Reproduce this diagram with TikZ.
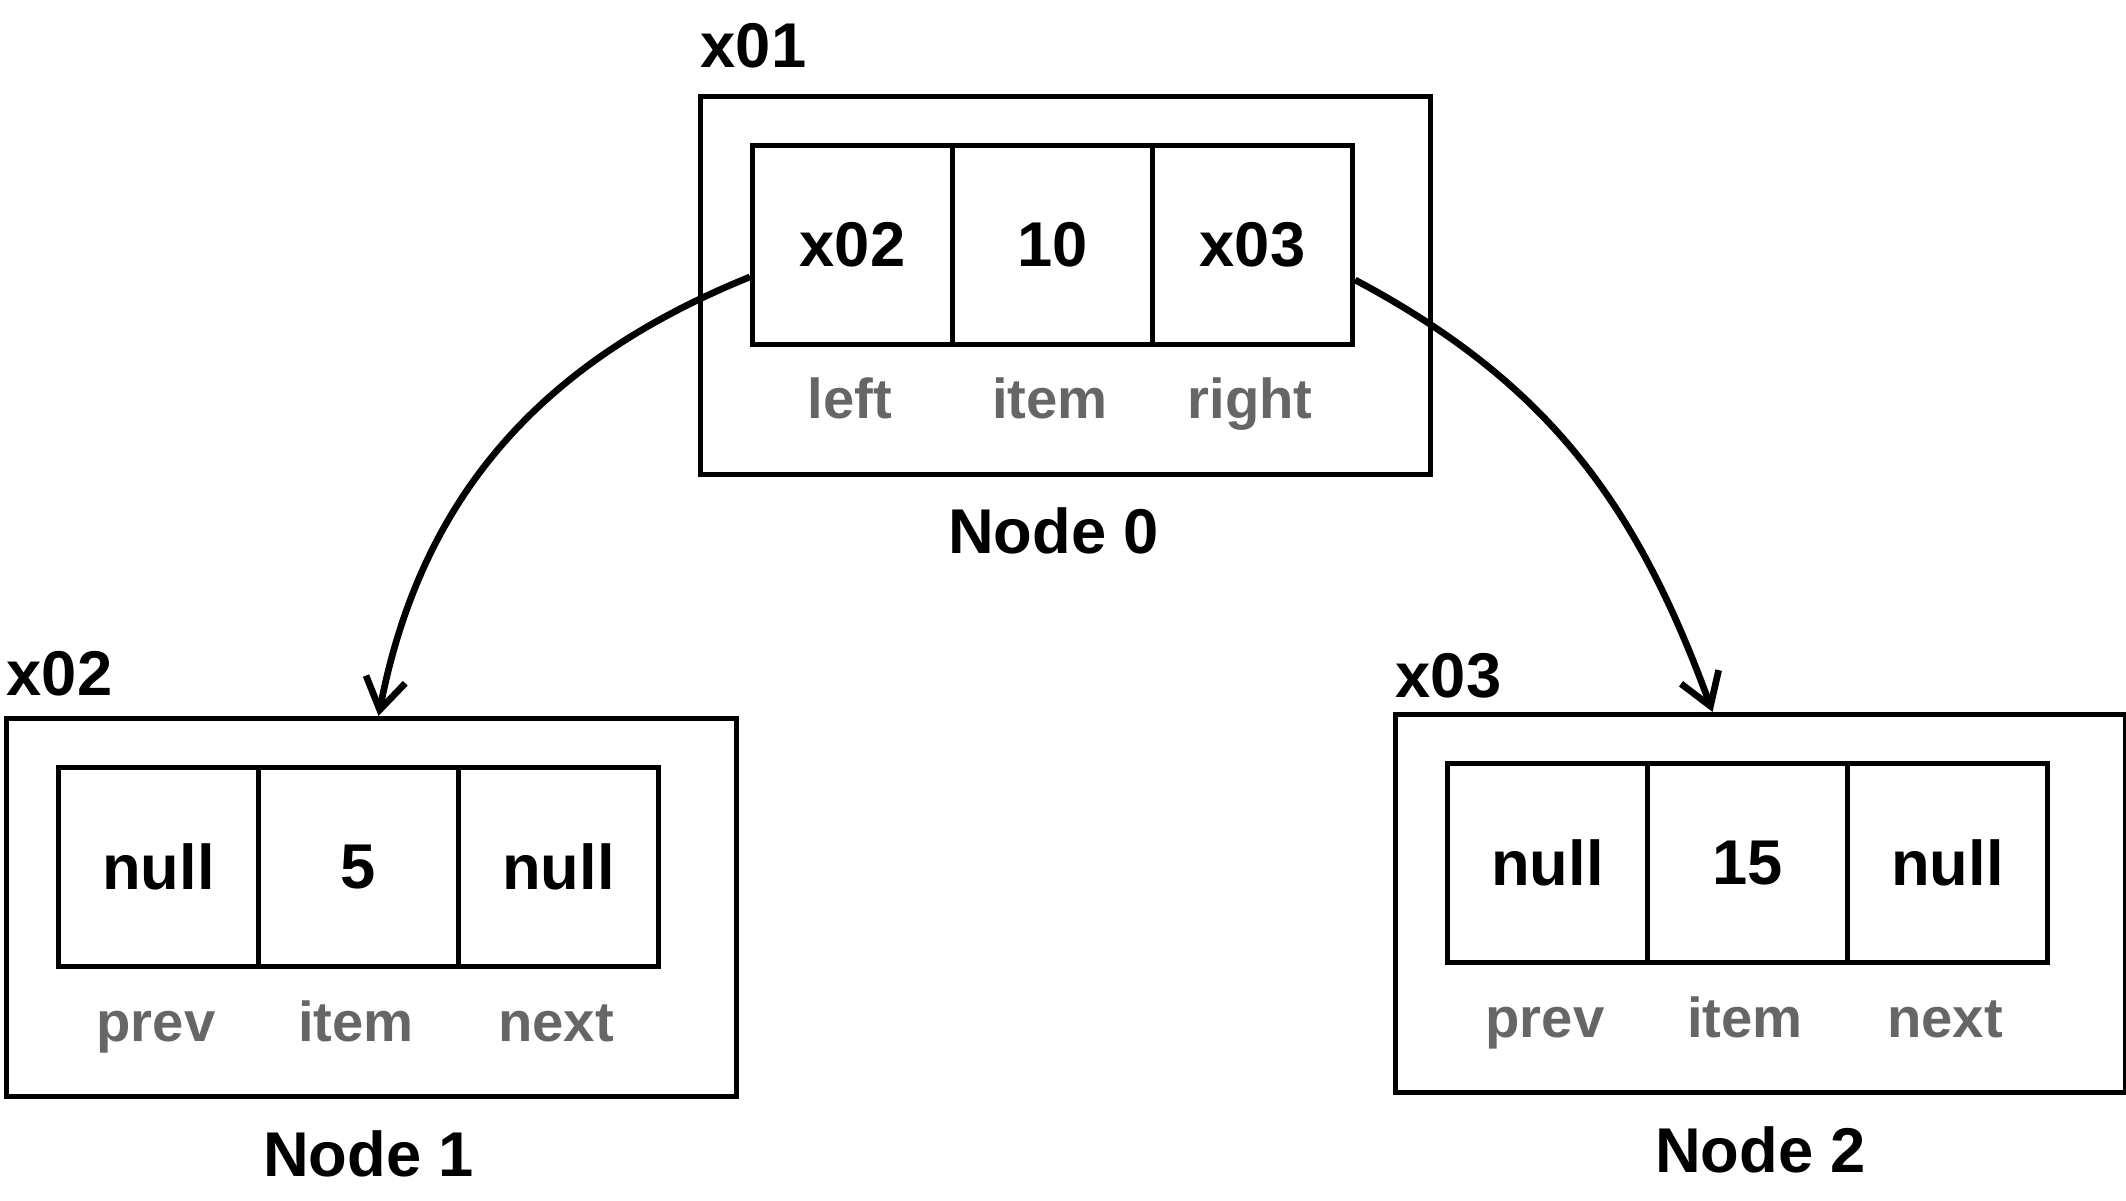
\documentclass[tikz,border=0pt]{standalone}
\usepackage{fontspec}
\setmainfont{Liberation Sans}
\usetikzlibrary{arrows.meta}
\definecolor{fieldgray}{HTML}{666666}

\tikzset{
  outerbox/.style={draw, line width=1.45pt, minimum width=7.3cm, minimum height=3.78cm, inner sep=0pt, anchor=south west},
  slot/.style={draw, line width=1.45pt, minimum width=2cm, minimum height=1.99cm, inner sep=0pt, anchor=south west, font=\fontsize{18}{22}\selectfont\bfseries},
  fieldname/.style={anchor=base, text=fieldgray, font=\fontsize{16}{19}\selectfont\bfseries},
  address/.style={anchor=base west, inner sep=0pt, font=\fontsize{18}{22}\selectfont\bfseries},
  nodetitle/.style={anchor=base, font=\fontsize{18}{22}\selectfont\bfseries},
  pointer/.style={line width=1.9pt, -{Straight Barb[length=3.1mm,width=4mm]}},
}

\begin{document}
\begin{tikzpicture}

  \useasboundingbox (0,0) rectangle (21.26,12);

  \foreach \k/\x/\y/\ay/\tx/\addr/\va/\vb/\vc/\la/\lc in {
      0/7.50/8.53/0.26/-0.12/x01/x02/10/x03/left/right,
      1/0.56/2.31/0.20/-0.03/x02/null/5/null/prev/next,
      2/14.45/2.35/0.14/0/x03/null/15/null/prev/next} {
    \node[outerbox] (box\k) at ({\x-0.52},{\y-1.30}) {};
    \node[slot] (s\k-a) at (\x,\y) {\va};
    \node[slot] (s\k-b) at ({\x+2},\y) {\vb};
    \node[slot] (s\k-c) at ({\x+4},\y) {\vc};
    \node[fieldname] (f\k-a) at ({\x+1},{\y-0.72}) {\la};
    \node[fieldname] (f\k-b) at ({\x+3},{\y-0.72}) {item};
    \node[fieldname] (f\k-c) at ({\x+5},{\y-0.72}) {\lc};
    \node[address] (addr\k) at ([xshift=0.02cm,yshift=\ay cm]box\k.north west) {\addr};
    \node[nodetitle] (title\k) at ([xshift=\tx cm,yshift=-0.77cm]box\k.south) {Node \k};
  }

  \draw[pointer] ([yshift=-0.32cm]s0-a.west) to[out=202, in=79] ([xshift=0.07cm]box1.north);
  \draw[pointer] ([yshift=-0.35cm]s0-c.east) to[out=-28, in=110] ([xshift=-0.48cm]box2.north);

\end{tikzpicture}
\end{document}
